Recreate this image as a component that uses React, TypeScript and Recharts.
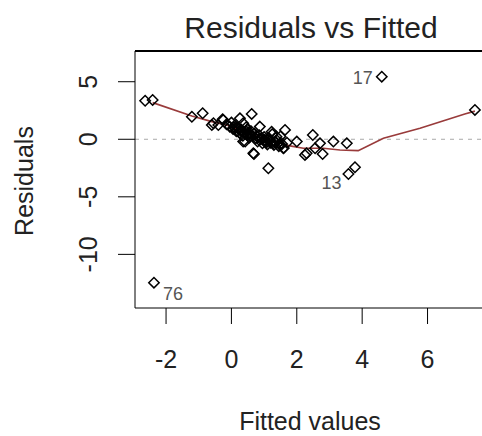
import { ScatterChart, Scatter, XAxis, YAxis, ReferenceLine } from 'recharts'

// fitted value, residual, optional observation label
const fitted = [
  -2.64, -2.41, -2.37, -1.21, -0.88, -0.6, -0.55, -0.4, -0.27, -0.25,
  -0.15, -0.05, 0.0, 0.05, 0.1, 0.15, 0.2, 0.25, 0.26, 0.3,
  0.35, 0.36, 0.36, 0.4, 0.42, 0.45, 0.47, 0.5, 0.55, 0.6,
  0.62, 0.65, 0.67, 0.69, 0.7, 0.75, 0.8, 0.85, 0.87, 0.9,
  0.95, 1.0, 1.05, 1.1, 1.13, 1.15, 1.2, 1.23, 1.25, 1.3,
  1.38, 1.4, 1.45, 1.5, 1.55, 1.59, 1.6, 1.64, 1.7, 2.0,
  2.25, 2.3, 2.49, 2.56, 2.71, 2.79, 3.12, 3.53, 3.58, 3.78,
  4.6, 7.45, 0.08, 0.22, 0.33, 0.52, 0.58, 0.78, 0.92, 1.02,
  1.08, 1.18, 1.28, 1.35, 1.48, 0.12, 0.28, 0.48,
]
const residuals = [
  3.35, 3.41, -12.46, 1.96, 2.26, 1.24, 1.39, 1.24, 1.74, 1.68,
  1.3, 1.1, 1.45, 0.9, 1.2, 0.7, 1.0, 0.55, 1.82, 0.85,
  0.3, 1.39, -0.2, 0.6, -0.2, 1.05, 0.66, 0.4, 0.15, 0.7,
  2.2, 0.3, -1.22, -1.28, 0.5, 0.1, -0.2, 0.35, 1.1, 0.0,
  -0.35, 0.2, -0.15, -0.45, -2.52, 0.1, -0.3, 0.66, 0.45, -0.5,
  0.23, -0.1, -0.6, 0.25, -0.4, -0.78, -0.75, 0.81, -0.3, -0.2,
  -1.36, -1.22, 0.37, -0.78, -0.35, -1.28, -0.2, -0.35, -3.02, -2.43,
  5.44, 2.55, 1.05, 0.9, 0.7, 0.55, 0.35, 0.25, 0.1, -0.05,
  -0.25, -0.1, -0.35, -0.3, -0.45, 0.95, 0.75, 0.85,
]
const labels: Record<number, string> = { 2: '76', 68: '13', 70: '17' }

const lowessX = [-2.41, -1.21, -0.6, -0.14, 0.47, 1.18, 1.79, 2.2, 2.81, 3.32, 3.88, 4.65, 5.77, 7.14, 7.45]
const lowessY = [3.18, 2.02, 1.53, 1.24, 0.52, -0.06, -0.58, -0.78, -0.78, -0.93, -0.99, 0.09, 0.96, 2.2, 2.45]

const xTicks = [-2, 0, 2, 4, 6]
const yTicks = [-10, -5, 0, 5]
const xDomain: [number, number] = [-2.95, 7.85]
const yDomain: [number, number] = [-14.66, 7.67]

const points = fitted.map((x, i) => ({ x, y: residuals[i], label: labels[i] }))
const lowess = lowessX.map((x, i) => ({ x, y: lowessY[i] }))

const font = '"Liberation Sans", Arial, sans-serif'

const labelOffset: Record<string, [number, number]> = {
  '17': [-19, 1],
  '13': [-17, 9],
  '76': [19, 11],
}

const Diamond = (props: any) => {
  const { cx, cy, payload } = props
  if (cx == null || cy == null) return null
  const r = 5.2
  const off = payload.label ? labelOffset[payload.label] : null
  return (
    <g>
      <path
        d={`M${cx},${cy - r}L${cx + r},${cy}L${cx},${cy + r}L${cx - r},${cy}Z`}
        fill="none"
        stroke="#000"
        strokeWidth={1.5}
      />
      {off && (
        <text
          x={cx + off[0]}
          y={cy + off[1]}
          textAnchor="middle"
          dominantBaseline="central"
          fontSize={18}
          fontFamily={font}
          fill="#555"
        >
          {payload.label}
        </text>
      )}
    </g>
  )
}

const YTick = (props: any) => {
  const { x, y, payload } = props
  return (
    <text
      x={x}
      y={y}
      transform={`rotate(-90 ${x} ${y})`}
      textAnchor="middle"
      fontSize={25}
      fontFamily={font}
      fill="#222"
    >
      {payload.value}
    </text>
  )
}

export default function App() {
  return (
    <div style={{ position: 'absolute', left: 0, top: 0, width: 482, height: 436, overflow: 'hidden', background: '#fff' }}>
      <div
        style={{
          position: 'absolute',
          left: 135,
          top: 50,
          width: 360,
          height: 258,
          borderTop: '2px solid #000',
          boxSizing: 'border-box',
        }}
      />
      <ScatterChart width={500} height={436} margin={{ top: 51, right: 12, bottom: 0, left: 0 }}>
        <XAxis
          type="number"
          dataKey="x"
          domain={xDomain}
          ticks={xTicks}
          tickSize={16}
          tickMargin={26}
          height={128}
          stroke="#000"
          tick={{ fill: '#222', fontSize: 25, fontFamily: font }}
          allowDataOverflow
        />
        <YAxis
          type="number"
          dataKey="y"
          domain={yDomain}
          ticks={yTicks}
          tickSize={17}
          tickMargin={21}
          width={135}
          stroke="#000"
          tick={<YTick />}
          allowDataOverflow
        />
        <ReferenceLine y={0} stroke="#aaa" strokeDasharray="4 5" />
        <Scatter data={lowess} line={{ stroke: '#993b3b', strokeWidth: 1.7 }} shape={() => null} isAnimationActive={false} />
        <Scatter data={points} shape={<Diamond />} isAnimationActive={false} />
      </ScatterChart>
      <svg width={482} height={436} style={{ position: 'absolute', left: 0, top: 0, pointerEvents: 'none' }}>
        <text x={311} y={38} textAnchor="middle" fontSize={30} fontFamily={font} fill="#222">
          Residuals vs Fitted
        </text>
        <text x={310} y={430} textAnchor="middle" fontSize={25} fontFamily={font} fill="#222">
          Fitted values
        </text>
        <text x={33} y={181} transform="rotate(-90 33 181)" textAnchor="middle" fontSize={25} fontFamily={font} fill="#222">
          Residuals
        </text>
      </svg>
    </div>
  )
}
